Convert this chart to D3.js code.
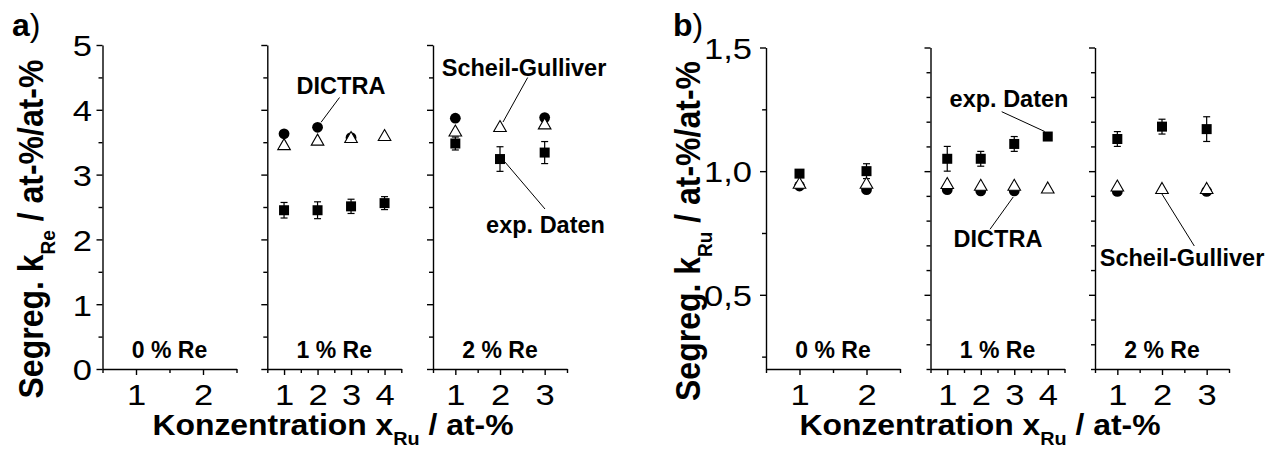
<!DOCTYPE html>
<html><head><meta charset="utf-8">
<script src="https://cdn.jsdelivr.net/npm/d3@7"></script>
<style>
body{margin:0;background:#fff}
svg{display:block;font-family:"Liberation Sans",Arial,sans-serif}
</style></head><body>
<svg id="chart" width="1278" height="450"></svg>
<script>
// Re content of each alloy group (one sub-panel each) and the Ru contents measured
const reGroups = ["0 % Re", "1 % Re", "2 % Re"];
const ruConc = [[1, 2], [1, 2, 3, 4], [1, 2, 3]];

// a) segregation coefficient k_Re
const kReExp    = [[], [2.45, 2.45, 2.51, 2.56], [3.48, 3.24, 3.34]];
const kReExpErr = [[], [0.12, 0.13, 0.11, 0.10], [0.10, 0.19, 0.17]];
const kReDictra = [[], [3.63, 3.73, 3.57, null], [3.87, null, 3.88]];
const kReScheil = [[], [3.47, 3.54, 3.58, 3.61], [3.68, 3.75, 3.79]];

// b) segregation coefficient k_Ru
const kRuExp    = [[0.99, 1.00], [1.05, 1.05, 1.11, 1.14], [1.13, 1.18, 1.17]];
const kRuExpErr = [[0.01, 0.03], [0.05, 0.03, 0.03, 0.01], [0.03, 0.03, 0.05]];
const kRuDictra = [[0.94, 0.925], [0.925, 0.92, 0.92, null], [0.918, null, 0.918]];
const kRuScheil = [[0.953, 0.953], [0.952, 0.945, 0.945, 0.934], [0.942, 0.932, 0.932]];

// axis ticks
const kReTicks = [0, 1, 2, 3, 4, 5];
const kReTickLabels = ["0", "1", "2", "3", "4", "5"];
const kReMinor = [0.5, 1.5, 2.5, 3.5, 4.5];
const kRuTicks = [0.5, 1.0, 1.5];
const kRuTickLabels = ["0,5", "1,0", "1,5"];
const kRuMinorFirst = [0.25, 0.75, 1.25];
const kRuMinor = [0.2, 0.3, 0.4, 0.6, 0.7, 0.8, 0.9, 1.1, 1.2, 1.3, 1.4];

const svg = d3.select("#chart");
const FONT = '"Liberation Sans", Arial, sans-serif';
const panelW = 134;
const TICK_FONT = 30;
const TICK_STRETCH = 1.15;   // tick numerals are set slightly wide
const TITLE_STRETCH = 1.1;

const figures = [
  {
    letter: "a", sub: "Re",
    exp: kReExp, err: kReExpErr, dictra: kReDictra, scheil: kReScheil,
    yDomain: [0, 5], yRange: [369, 45],
    ticks: kReTicks, tickLabels: kReTickLabels, minorFirst: kReMinor, minor: kReMinor,
    labelGap: 10.5,
    lefts: [102.5, 267.3, 433],
    letterX: 12, titleX: 43, titleY: 229, xTitleX: 333,
    notes: [
      {text: "DICTRA", series: "dictra", panel: 1, idx: 1, lx: 341, ly: 94, from: [339.5, 97.5], off: [3.5, -5]},
      {text: "Scheil-Gulliver", series: "scheil", panel: 2, idx: 1, lx: 524, ly: 76, from: [527.7, 77.5], off: [3, -4]},
      {text: "exp. Daten", series: "exp", panel: 2, idx: 1, lx: 545.5, ly: 232.5, from: [545, 209], off: [5, 3]}
    ]
  },
  {
    letter: "b", sub: "Ru",
    exp: kRuExp, err: kRuExpErr, dictra: kRuDictra, scheil: kRuScheil,
    yDomain: [0.2, 1.5], yRange: [369, 47.5],
    ticks: kRuTicks, tickLabels: kRuTickLabels, minorFirst: kRuMinorFirst, minor: kRuMinor,
    labelGap: 14,
    lefts: [766, 930.5, 1095],
    letterX: 673, titleX: 700, titleY: 231, xTitleX: 980,
    notes: [
      {text: "exp. Daten", series: "exp", panel: 1, idx: 3, lx: 1009, ly: 106.5, from: [1001.7, 111.7], off: [-3, -5]},
      {text: "DICTRA", series: "dictra", panel: 1, idx: 2, lx: 998, ly: 246.5, from: [990, 229.3], off: [-1, 6]},
      {text: "Scheil-Gulliver", series: "scheil", panel: 2, idx: 1, lx: 1182, ly: 265.5, from: [1194.3, 246], off: [-1, 4.5]}
    ]
  }
];

function styleAxis(g) {
  g.attr("font-size", null).attr("font-family", null);
  g.selectAll("path.domain").attr("stroke", "#000").attr("stroke-width", 1.4);
  g.selectAll(".tick line").attr("stroke", "#000").attr("stroke-width", 1.4);
  g.selectAll(".tick text")
    .style("fill", "#000")
    .style("font-size", TICK_FONT + "px")
    .style("font-family", FONT)
    .style("font-weight", "normal");
}

const triPath = "M0,-5.5L6.3,5.5L-6.3,5.5Z";

figures.forEach(fig => {
  const y = d3.scaleLinear().domain(fig.yDomain).range(fig.yRange);
  const bottom = fig.yRange[0];
  const xScales = [];

  reGroups.forEach((grp, p) => {
    const n = ruConc[p].length;
    const left = fig.lefts[p];
    const x = d3.scaleLinear().domain([0.5, n + 0.5]).range([left, left + panelW]);
    xScales.push(x);

    // y axis: labelled only on the first sub-panel
    const ya = svg.append("g").attr("transform", `translate(${left},0)`)
      .call(d3.axisLeft(y).tickValues(fig.ticks).tickSize(6).tickSizeOuter(0)
        .tickFormat((d, i) => p === 0 ? fig.tickLabels[i] : ""));
    styleAxis(ya);
    ya.selectAll(".tick text").attr("dy", "0.36em")
      .attr("x", -fig.labelGap / TICK_STRETCH)
      .attr("transform", `scale(${TICK_STRETCH},1)`);
    const ym = svg.append("g").attr("transform", `translate(${left},0)`)
      .call(d3.axisLeft(y).tickValues(p === 0 ? fig.minorFirst : fig.minor).tickSize(4).tickFormat(""));
    ym.select("path.domain").remove();
    styleAxis(ym);

    // x axis
    const xa = svg.append("g").attr("transform", `translate(0,${bottom})`)
      .call(d3.axisBottom(x).tickValues(ruConc[p]).tickSize(6).tickSizeOuter(0).tickPadding(9)
        .tickFormat(d3.format("d")));
    styleAxis(xa);
    xa.selectAll(".tick text").attr("transform", `scale(${TICK_STRETCH},1)`);
    const xm = svg.append("g").attr("transform", `translate(0,${bottom})`)
      .call(d3.axisBottom(x).tickValues(d3.range(0, n + 1).map(v => v + 0.5)).tickSize(4).tickFormat(""));
    xm.select("path.domain").remove();
    styleAxis(xm);

    // group label
    svg.append("text").attr("x", left + panelW / 2).attr("y", 358)
      .attr("text-anchor", "middle").style("font-size", "23px").style("font-weight", "bold")
      .style("font-family", FONT).text(grp);
  });

  const pos = (series, p, i) => [xScales[p](ruConc[p][i]), y(fig[series][p][i])];

  // annotations with leader lines
  fig.notes.forEach(nt => {
    const [cx, cy] = pos(nt.series, nt.panel, nt.idx);
    svg.append("line").attr("x1", nt.from[0]).attr("y1", nt.from[1])
      .attr("x2", cx + nt.off[0]).attr("y2", cy + nt.off[1])
      .attr("stroke", "#000").attr("stroke-width", 1);
    svg.append("text").attr("x", nt.lx).attr("y", nt.ly).attr("text-anchor", "middle")
      .style("font-size", "23.5px").style("font-weight", "bold").style("font-family", FONT).text(nt.text);
  });

  reGroups.forEach((grp, p) => {
    const x = xScales[p];
    const g = svg.append("g");
    const pts = ruConc[p].map((c, i) => ({c, i}));

    // experimental data with error bars
    const expPts = pts.filter(d => fig.exp[p][d.i] != null);
    expPts.forEach(d => {
      const v = fig.exp[p][d.i], e = fig.err[p][d.i], cx = x(d.c);
      g.append("line").attr("x1", cx).attr("x2", cx).attr("y1", y(v - e)).attr("y2", y(v + e))
        .attr("stroke", "#000").attr("stroke-width", 1.2);
      [v - e, v + e].forEach(w => g.append("line").attr("x1", cx - 3.5).attr("x2", cx + 3.5)
        .attr("y1", y(w)).attr("y2", y(w)).attr("stroke", "#000").attr("stroke-width", 1.2));
    });
    g.selectAll(null).data(expPts).join("rect")
      .attr("x", d => x(d.c) - 5).attr("y", d => y(fig.exp[p][d.i]) - 5)
      .attr("width", 10).attr("height", 10).attr("fill", "#000");

    // DICTRA simulation
    g.selectAll(null).data(pts.filter(d => fig.dictra[p][d.i] != null)).join("circle")
      .attr("cx", d => x(d.c)).attr("cy", d => y(fig.dictra[p][d.i])).attr("r", 5.4).attr("fill", "#000");

    // Scheil-Gulliver simulation
    g.selectAll(null).data(pts.filter(d => fig.scheil[p][d.i] != null)).join("path")
      .attr("d", triPath)
      .attr("transform", d => `translate(${x(d.c)},${y(fig.scheil[p][d.i])})`)
      .attr("fill", "#fff").attr("stroke", "#000").attr("stroke-width", 1.1);
  });

  // panel letter
  const lt = svg.append("text").attr("x", fig.letterX).attr("y", 36)
    .style("font-size", "32px").style("font-family", FONT);
  lt.append("tspan").style("font-weight", "bold").text(fig.letter);
  lt.append("tspan").text(")");

  // y axis title
  const yt = svg.append("text")
    .attr("transform", `translate(${fig.titleX},${fig.titleY}) scale(${TITLE_STRETCH},1) rotate(-90)`)
    .attr("text-anchor", "middle").style("font-size", "32px").style("font-weight", "bold")
    .style("font-family", FONT);
  yt.append("tspan").text("Segreg. k");
  yt.append("tspan").style("font-size", "19px").attr("dy", 11).text(fig.sub);
  yt.append("tspan").attr("dy", -11).text(" / at-%/at-%");

  // x axis title
  const xt = svg.append("text")
    .attr("transform", `translate(${fig.xTitleX},435) scale(${TITLE_STRETCH},1)`)
    .attr("text-anchor", "middle").style("font-size", "29px").style("font-weight", "bold")
    .style("font-family", FONT);
  xt.append("tspan").text("Konzentration x");
  xt.append("tspan").style("font-size", "18px").attr("dy", 10).text("Ru");
  xt.append("tspan").attr("dy", -10).text(" / at-%");
});
</script>
</body></html>
